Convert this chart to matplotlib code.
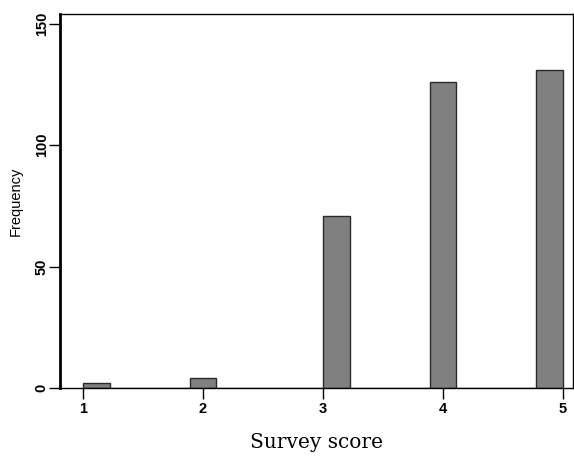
import numpy as np
import matplotlib.pyplot as plt

# Оцінки опитування та їх частоти
scores = [1, 2, 3, 4, 5]
counts = [2, 4, 71, 126, 131]
n_bins = 18

# Відновлюємо сирі дані для гістограми
data = np.repeat(scores, counts)

fig = plt.figure(figsize=(5.74, 4.57), dpi=100)
ax = fig.add_axes([0.1045, 0.151, 0.8932, 0.8184])

ax.hist(data, bins=n_bins, range=(1, 5), color='#808080',
        edgecolor='#2a2a2a', linewidth=1.0)

ax.set_xlim(0.808, 5.08)
ax.set_ylim(0, 154)
ax.set_xticks(scores)
ax.set_yticks([0, 50, 100, 150])

ax.tick_params(axis='both', direction='out', length=8, width=1,
               labelsize=10.5)
ax.tick_params(axis='y', pad=0)
ax.tick_params(axis='x', pad=2)
for lab in ax.get_yticklabels():
    lab.set_rotation(90)
    lab.set_va('center')
for lab in ax.get_xticklabels() + ax.get_yticklabels():
    lab.set_family(['Liberation Sans', 'DejaVu Sans'])
    lab.set_fontweight('bold')

ax.spines['left'].set_linewidth(2)
for s in ['top', 'right', 'bottom']:
    ax.spines[s].set_linewidth(1)

ax.set_ylabel('Frequency', family=['Liberation Sans', 'DejaVu Sans'],
              fontsize=10.5, labelpad=9)
ax.set_xlabel('Survey score', family=['DejaVu Serif'], fontsize=14.5,
              labelpad=12)

plt.savefig('out.png', dpi=100)
